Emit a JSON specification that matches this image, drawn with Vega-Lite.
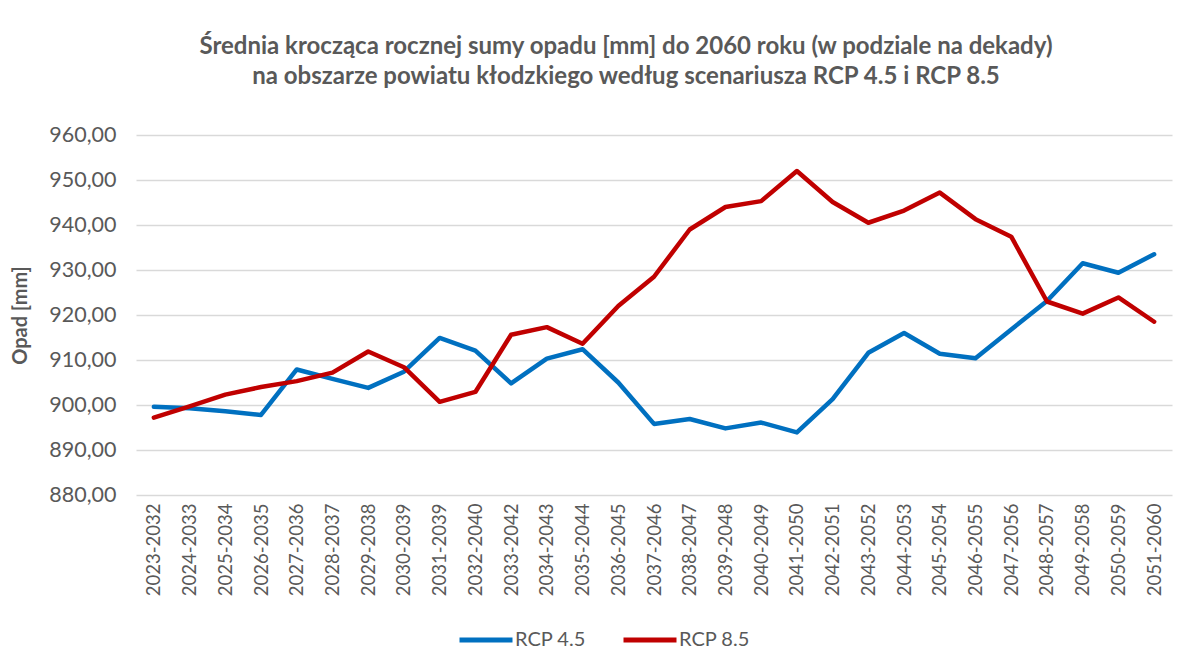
{
  "$schema": "https://vega.github.io/schema/vega-lite/v6.json",
  "width": 1036,
  "height": 360,
  "autosize": {"type": "none"},
  "padding": {"left": 136, "top": 135, "right": 19, "bottom": 173},
  "background": "white",
  "config": {
    "locale": {"number": {"decimal": ",", "thousands": " ", "grouping": [3], "currency": ["", " zł"]}},
    "font": "Lato",
    "view": {"stroke": null},
    "title": {"color": "#595959", "font": "Lato", "fontWeight": "bold", "fontSize": 24, "lineHeight": 30}
  },
  "title": {
    "text": ["Średnia krocząca rocznej sumy opadu [mm] do 2060 roku (w podziale na dekady)", "na obszarze powiatu kłodzkiego według scenariusza RCP 4.5 i RCP 8.5"],
    "anchor": "middle",
    "frame": "group",
    "dx": -28,
    "offset": 35
  },
  "data": {
    "values": [
      {"okres": "2023-2032", "scenariusz": "RCP 4.5", "opad": 899.6},
      {"okres": "2024-2033", "scenariusz": "RCP 4.5", "opad": 899.3},
      {"okres": "2025-2034", "scenariusz": "RCP 4.5", "opad": 898.6},
      {"okres": "2026-2035", "scenariusz": "RCP 4.5", "opad": 897.8},
      {"okres": "2027-2036", "scenariusz": "RCP 4.5", "opad": 907.9},
      {"okres": "2028-2037", "scenariusz": "RCP 4.5", "opad": 905.8},
      {"okres": "2029-2038", "scenariusz": "RCP 4.5", "opad": 903.8},
      {"okres": "2030-2039", "scenariusz": "RCP 4.5", "opad": 907.4},
      {"okres": "2031-2039", "scenariusz": "RCP 4.5", "opad": 914.9},
      {"okres": "2032-2040", "scenariusz": "RCP 4.5", "opad": 912.1},
      {"okres": "2033-2042", "scenariusz": "RCP 4.5", "opad": 904.8},
      {"okres": "2034-2043", "scenariusz": "RCP 4.5", "opad": 910.3},
      {"okres": "2035-2044", "scenariusz": "RCP 4.5", "opad": 912.4},
      {"okres": "2036-2045", "scenariusz": "RCP 4.5", "opad": 905.0},
      {"okres": "2037-2046", "scenariusz": "RCP 4.5", "opad": 895.8},
      {"okres": "2038-2047", "scenariusz": "RCP 4.5", "opad": 896.9},
      {"okres": "2039-2048", "scenariusz": "RCP 4.5", "opad": 894.8},
      {"okres": "2040-2049", "scenariusz": "RCP 4.5", "opad": 896.1},
      {"okres": "2041-2050", "scenariusz": "RCP 4.5", "opad": 893.9},
      {"okres": "2042-2051", "scenariusz": "RCP 4.5", "opad": 901.3},
      {"okres": "2043-2052", "scenariusz": "RCP 4.5", "opad": 911.6},
      {"okres": "2044-2053", "scenariusz": "RCP 4.5", "opad": 916.0},
      {"okres": "2045-2054", "scenariusz": "RCP 4.5", "opad": 911.4},
      {"okres": "2046-2055", "scenariusz": "RCP 4.5", "opad": 910.4},
      {"okres": "2047-2056", "scenariusz": "RCP 4.5", "opad": 916.8},
      {"okres": "2048-2057", "scenariusz": "RCP 4.5", "opad": 923.1},
      {"okres": "2049-2058", "scenariusz": "RCP 4.5", "opad": 931.5},
      {"okres": "2050-2059", "scenariusz": "RCP 4.5", "opad": 929.4},
      {"okres": "2051-2060", "scenariusz": "RCP 4.5", "opad": 933.5},
      {"okres": "2023-2032", "scenariusz": "RCP 8.5", "opad": 897.2},
      {"okres": "2024-2033", "scenariusz": "RCP 8.5", "opad": 899.7},
      {"okres": "2025-2034", "scenariusz": "RCP 8.5", "opad": 902.3},
      {"okres": "2026-2035", "scenariusz": "RCP 8.5", "opad": 904.0},
      {"okres": "2027-2036", "scenariusz": "RCP 8.5", "opad": 905.3},
      {"okres": "2028-2037", "scenariusz": "RCP 8.5", "opad": 907.2},
      {"okres": "2029-2038", "scenariusz": "RCP 8.5", "opad": 911.9},
      {"okres": "2030-2039", "scenariusz": "RCP 8.5", "opad": 908.4},
      {"okres": "2031-2039", "scenariusz": "RCP 8.5", "opad": 900.7},
      {"okres": "2032-2040", "scenariusz": "RCP 8.5", "opad": 902.9},
      {"okres": "2033-2042", "scenariusz": "RCP 8.5", "opad": 915.6},
      {"okres": "2034-2043", "scenariusz": "RCP 8.5", "opad": 917.3},
      {"okres": "2035-2044", "scenariusz": "RCP 8.5", "opad": 913.6},
      {"okres": "2036-2045", "scenariusz": "RCP 8.5", "opad": 922.0},
      {"okres": "2037-2046", "scenariusz": "RCP 8.5", "opad": 928.5},
      {"okres": "2038-2047", "scenariusz": "RCP 8.5", "opad": 939.0},
      {"okres": "2039-2048", "scenariusz": "RCP 8.5", "opad": 944.0},
      {"okres": "2040-2049", "scenariusz": "RCP 8.5", "opad": 945.3},
      {"okres": "2041-2050", "scenariusz": "RCP 8.5", "opad": 952.0},
      {"okres": "2042-2051", "scenariusz": "RCP 8.5", "opad": 945.1},
      {"okres": "2043-2052", "scenariusz": "RCP 8.5", "opad": 940.5},
      {"okres": "2044-2053", "scenariusz": "RCP 8.5", "opad": 943.2},
      {"okres": "2045-2054", "scenariusz": "RCP 8.5", "opad": 947.2},
      {"okres": "2046-2055", "scenariusz": "RCP 8.5", "opad": 941.3},
      {"okres": "2047-2056", "scenariusz": "RCP 8.5", "opad": 937.4},
      {"okres": "2048-2057", "scenariusz": "RCP 8.5", "opad": 923.0},
      {"okres": "2049-2058", "scenariusz": "RCP 8.5", "opad": 920.3},
      {"okres": "2050-2059", "scenariusz": "RCP 8.5", "opad": 923.9},
      {"okres": "2051-2060", "scenariusz": "RCP 8.5", "opad": 918.5}
    ]
  },
  "mark": {"type": "line", "strokeWidth": 4.5, "strokeJoin": "round", "strokeCap": "round"},
  "encoding": {
    "x": {
      "field": "okres",
      "type": "ordinal",
      "sort": null,
      "scale": {"type": "point", "padding": 0.5},
      "axis": {
        "title": null,
        "labelAngle": 270,
        "labelFontSize": 18.5,
        "labelColor": "#595959",
        "labelPadding": 8,
        "ticks": false,
        "domain": false,
        "grid": false
      }
    },
    "y": {
      "field": "opad",
      "type": "quantitative",
      "scale": {"domain": [880, 960], "nice": false, "zero": false},
      "axis": {
        "title": "Opad [mm]",
        "titleFontSize": 20,
        "titleFontWeight": "bold",
        "titleColor": "#595959",
        "titlePadding": 18,
        "values": [880, 890, 900, 910, 920, 930, 940, 950, 960],
        "format": ".2f",
        "labelFontSize": 21.5,
        "labelColor": "#595959",
        "labelPadding": 20,
        "ticks": false,
        "domain": false,
        "grid": true,
        "gridColor": "#d9d9d9",
        "gridWidth": 1.5
      }
    },
    "color": {
      "field": "scenariusz",
      "type": "nominal",
      "scale": {"domain": ["RCP 4.5", "RCP 8.5"], "range": ["#0070C0", "#C00000"]},
      "legend": {
        "title": null,
        "orient": "none",
        "direction": "horizontal",
        "legendX": 321,
        "legendY": 476,
        "symbolType": "stroke",
        "symbolSize": 2809,
        "symbolStrokeWidth": 5,
        "labelFontSize": 20,
        "labelColor": "#595959",
        "labelOffset": 0,
        "columnPadding": 27
      }
    }
  }
}
